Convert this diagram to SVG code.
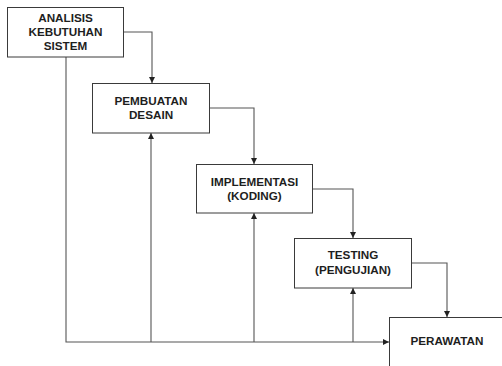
<svg xmlns="http://www.w3.org/2000/svg" width="502" height="366" viewBox="0 0 502 366">
<style>
.box{fill:#fff;stroke:#3a3a3a;stroke-width:1}
.lbl{font-family:"Liberation Sans",Arial,sans-serif;font-weight:bold;font-size:11.7px;fill:#1e1e1e;text-anchor:middle}
.con{fill:none;stroke:#555;stroke-width:1.1}
</style>
<defs>
<marker id="ah" viewBox="0 0 10 10" refX="10" refY="5" markerWidth="6" markerHeight="6" markerUnits="userSpaceOnUse" orient="auto">
<path d="M0,0 L10,5 L0,10 z" fill="#222"/>
</marker>
</defs>
<rect width="502" height="366" fill="#fff"/>
<g id="connectors">
<path class="con" d="M124,32 H152 V83" marker-end="url(#ah)"/>
<path class="con" d="M209,108 H254 V164" marker-end="url(#ah)"/>
<path class="con" d="M312,189 H353 V238" marker-end="url(#ah)"/>
<path class="con" d="M411,263 H447 V317" marker-end="url(#ah)"/>
<path class="con" d="M66,57 V342 H389" marker-end="url(#ah)"/>
<path class="con" d="M151,342 V133" marker-end="url(#ah)"/>
<path class="con" d="M254,342 V213" marker-end="url(#ah)"/>
<path class="con" d="M353,342 V288" marker-end="url(#ah)"/>
</g>
<g id="analisis">
<rect class="box" x="7.5" y="7.5" width="116" height="49.5"/>
<text class="lbl" x="65.5" y="21.5">ANALISIS</text>
<text class="lbl" x="65.5" y="36">KEBUTUHAN</text>
<text class="lbl" x="65.5" y="49.5">SISTEM</text>
</g>
<g id="desain">
<rect class="box" x="92.5" y="83.5" width="117" height="49.5"/>
<text class="lbl" x="151" y="105">PEMBUATAN</text>
<text class="lbl" x="151" y="118.5">DESAIN</text>
</g>
<g id="implementasi">
<rect class="box" x="196.5" y="164.5" width="116" height="48.5"/>
<text class="lbl" x="254.5" y="186">IMPLEMENTASI</text>
<text class="lbl" x="254.5" y="200">(KODING)</text>
</g>
<g id="testing">
<rect class="box" x="294.5" y="238.5" width="117" height="49.5"/>
<text class="lbl" x="353" y="259">TESTING</text>
<text class="lbl" x="353" y="274">(PENGUJIAN)</text>
</g>
<g id="perawatan">
<rect class="box" x="389.5" y="317.5" width="120" height="60"/>
<text class="lbl" x="447" y="345">PERAWATAN</text>
</g>
</svg>
